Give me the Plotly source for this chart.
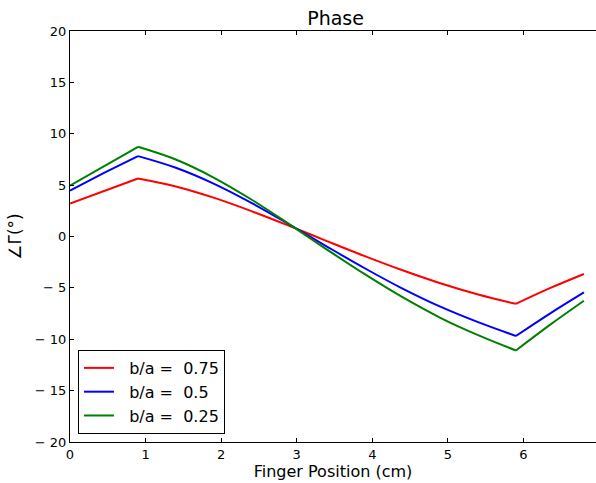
import plotly.graph_objects as go

x_pos = [0, 0.45, 0.9, 1.4, 1.9, 2.4, 2.9, 3.4, 3.9, 4.4, 4.9, 5.4, 5.9, 6.35, 6.8]
phase_075 = [3.2, 4.42, 5.65, 4.87, 3.78, 2.47, 1.04, -0.45, -1.91, -3.29, -4.55, -5.64, -6.55, -5.03, -3.65]
phase_050 = [4.47, 6.2, 7.82, 6.69, 5.15, 3.27, 1.18, -0.98, -3.09, -5.07, -6.83, -8.34, -9.68, -7.5, -5.44]
phase_025 = [4.96, 6.85, 8.73, 7.49, 5.74, 3.6, 1.2, -1.27, -3.67, -5.91, -7.91, -9.6, -11.09, -8.6, -6.25]

series_names = ["\u00a0\u00a0b/a =\u00a0\u00a00.75", "\u00a0\u00a0b/a =\u00a0\u00a00.5", "\u00a0\u00a0b/a =\u00a0\u00a00.25"]
series_colors = ["#ff0000", "#0000ff", "#008000"]

x_ticks = [0, 1, 2, 3, 4, 5, 6]
y_ticks = [20, 15, 10, 5, 0, -5, -10, -15, -20]
y_tick_text = ["20", "15", "10", "5", "0", "\u2212 5", "\u2212 10", "\u2212 15", "\u2212 20"]

font = "DejaVu Sans, sans-serif"

# indices of the corner points (peak and trough)
i_peak = x_pos.index(0.9)
i_trough = x_pos.index(5.9)

fig = go.Figure()
for ys, name, col in zip([phase_075, phase_050, phase_025], series_names, series_colors):
    segs = [
        (slice(0, i_peak + 1), "linear", False),
        (slice(i_peak, i_trough + 1), "spline", True),
        (slice(i_trough, len(x_pos)), "spline", False),
    ]
    for sl, shape, show in segs:
        fig.add_trace(go.Scatter(x=x_pos[sl], y=ys[sl], mode="lines", name=name,
                                 legendgroup=name, showlegend=show,
                                 line=dict(color=col, width=2, shape=shape, smoothing=1)))

fig.update_layout(
    width=596, height=483,
    margin=dict(l=70, r=0, t=31, b=41),
    paper_bgcolor="white", plot_bgcolor="white",
    font=dict(family=font, size=13, color="black"),
    title=dict(text="Phase", x=0.563, xanchor="center", y=0.963, yanchor="middle",
               font=dict(size=19, family=font)),
    showlegend=True,
    legend=dict(x=0.0152, y=0.0195, xanchor="left", yanchor="bottom",
                bgcolor="white", bordercolor="black", borderwidth=1,
                font=dict(size=16, family=font), itemwidth=30,
                tracegroupgap=0, traceorder="normal"),
    yaxis2=dict(overlaying="y", side="right", range=[-20, 20], tickvals=y_ticks,
                showticklabels=False, ticks="inside", ticklen=4, tickcolor="black",
                showgrid=False, zeroline=False, showline=False),
)
fig.update_xaxes(range=[0, 6.96], tickvals=x_ticks, ticktext=[str(v) for v in x_ticks],
                 showgrid=False, zeroline=False, showline=True, linecolor="black", linewidth=1,
                 mirror="ticks", ticks="inside", ticklen=4, tickcolor="black",
                 tickfont=dict(size=13),
                 title=dict(text="Finger Position (cm)", font=dict(size=16), standoff=4))
fig.update_layout(yaxis=dict(range=[-20, 20], tickvals=y_ticks, ticktext=y_tick_text,
                 showgrid=False, zeroline=False, showline=True, linecolor="black", linewidth=1,
                 mirror=False, ticks="inside", ticklen=4, tickcolor="black",
                 tickfont=dict(size=13),
                 title=dict(text="\u2220\u0393(\u00b0)", font=dict(size=17), standoff=8)))

fig.write_html("out.html")
